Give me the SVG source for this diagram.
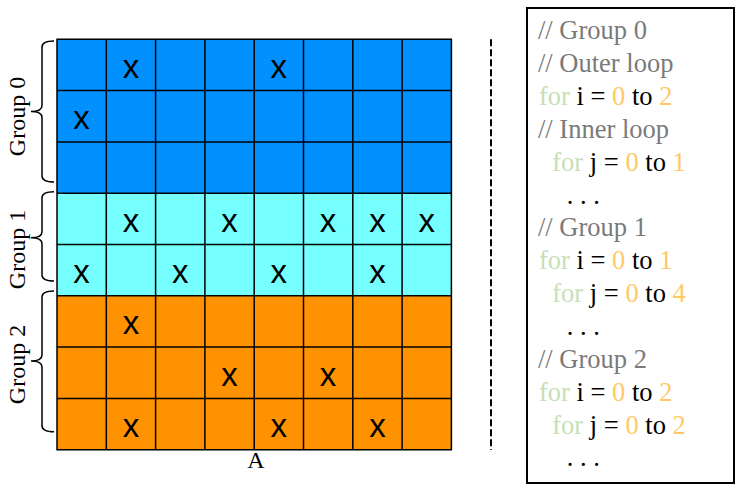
<svg xmlns="http://www.w3.org/2000/svg" width="747" height="498" viewBox="0 0 747 498">
<style>
.cell{stroke:#000;stroke-width:1.5}
.gl{stroke:#000;stroke-width:1.5;fill:none}
.x{font-family:"Liberation Sans",Arial,sans-serif;font-size:33px;text-anchor:middle;fill:#000}
.lbl{font-family:"Liberation Serif","Times New Roman",serif;font-size:24px;text-anchor:middle;fill:#000}
.brace{fill:none;stroke:#000;stroke-width:1.5}
.code{font-family:"Liberation Serif","Times New Roman",serif;font-size:26.5px;fill:#000}
.cm{fill:#7a7a7a}
.kw{fill:#c5e0b4}
.num{fill:#ffc966}
</style>
<rect width="747" height="498" fill="#fff"/>
<g id="grid">
<rect x="57" y="39.3" width="394.4" height="153.9" fill="#0091ff"/>
<rect x="57" y="193.2" width="394.4" height="102.6" fill="#75ffff"/>
<rect x="57" y="295.8" width="394.4" height="153.9" fill="#ff9200"/>
<path class="gl" d="M57,39.3H451.4V449.7H57Z M106.3,39.3V449.7 M155.6,39.3V449.7 M204.9,39.3V449.7 M254.2,39.3V449.7 M303.5,39.3V449.7 M352.8,39.3V449.7 M402.1,39.3V449.7 M57,90.6H451.4 M57,141.9H451.4 M57,193.2H451.4 M57,244.5H451.4 M57,295.8H451.4 M57,347.1H451.4 M57,398.4H451.4"/>
<g id="marks">
<text class="x" x="130.9" y="77.7">x</text>
<text class="x" x="278.8" y="77.7">x</text>
<text class="x" x="81.6" y="129">x</text>
<text class="x" x="130.9" y="231.6">x</text>
<text class="x" x="229.5" y="231.6">x</text>
<text class="x" x="328.1" y="231.6">x</text>
<text class="x" x="377.4" y="231.6">x</text>
<text class="x" x="426.7" y="231.6">x</text>
<text class="x" x="81.6" y="282.9">x</text>
<text class="x" x="180.2" y="282.9">x</text>
<text class="x" x="278.8" y="282.9">x</text>
<text class="x" x="377.4" y="282.9">x</text>
<text class="x" x="130.9" y="334.2">x</text>
<text class="x" x="229.5" y="385.5">x</text>
<text class="x" x="328.1" y="385.5">x</text>
<text class="x" x="130.9" y="436.8">x</text>
<text class="x" x="278.8" y="436.8">x</text>
<text class="x" x="377.4" y="436.8">x</text>
</g>
<text class="lbl" x="256" y="467.7" font-size="22">A</text>
</g>
<g id="group0">
<path class="brace" d="M54,41 Q42,41 42,47 L42,105.5 Q42,111.5 31,111.5 Q42,111.5 42,117.5 L42,176 Q42,182 54,182"/>
<text class="lbl" transform="translate(25,116.5) rotate(-90)">Group 0</text>
</g>
<g id="group1">
<path class="brace" d="M54,191.7 Q42,191.7 42,197.7 L42,231.7 Q42,237.7 31,237.7 Q42,237.7 42,243.7 L42,275 Q42,281 54,281"/>
<text class="lbl" transform="translate(25,249.5) rotate(-90)">Group 1</text>
</g>
<g id="group2">
<path class="brace" d="M54,291 Q42,291 42,297 L42,355 Q42,361 31,361 Q42,361 42,367 L42,425.7 Q42,431.7 54,431.7"/>
<text class="lbl" transform="translate(25,364.5) rotate(-90)">Group 2</text>
</g>
<g id="separator">
<line x1="491" y1="39.3" x2="491" y2="450" stroke="#000" stroke-width="2" stroke-dasharray="7 3"/>
</g>
<g id="code">
<rect x="527" y="8" width="207" height="475" fill="#fff" stroke="#000" stroke-width="2"/>
<text class="code" xml:space="preserve">
<tspan class="cm" x="538" y="39.3">// Group 0</tspan>
<tspan class="cm" x="538" y="72.1">// Outer loop</tspan>
<tspan x="539" y="105"><tspan class="kw">for</tspan> i = <tspan class="num">0</tspan> to <tspan class="num">2</tspan></tspan>
<tspan class="cm" x="538" y="137.8">// Inner loop</tspan>
<tspan x="552.3" y="170.7"><tspan class="kw">for</tspan> j = <tspan class="num">0</tspan> to <tspan class="num">1</tspan></tspan>
<tspan x="566.7" y="203.5">. . .</tspan>
<tspan class="cm" x="538" y="236.4">// Group 1</tspan>
<tspan x="539" y="269.2"><tspan class="kw">for</tspan> i = <tspan class="num">0</tspan> to <tspan class="num">1</tspan></tspan>
<tspan x="552.3" y="302.1"><tspan class="kw">for</tspan> j = <tspan class="num">0</tspan> to <tspan class="num">4</tspan></tspan>
<tspan x="566.7" y="334.9">. . .</tspan>
<tspan class="cm" x="538" y="367.8">// Group 2</tspan>
<tspan x="539" y="400.6"><tspan class="kw">for</tspan> i = <tspan class="num">0</tspan> to <tspan class="num">2</tspan></tspan>
<tspan x="552.3" y="433.5"><tspan class="kw">for</tspan> j = <tspan class="num">0</tspan> to <tspan class="num">2</tspan></tspan>
<tspan x="566.7" y="466.3">. . .</tspan>
</text>
</g>
</svg>
